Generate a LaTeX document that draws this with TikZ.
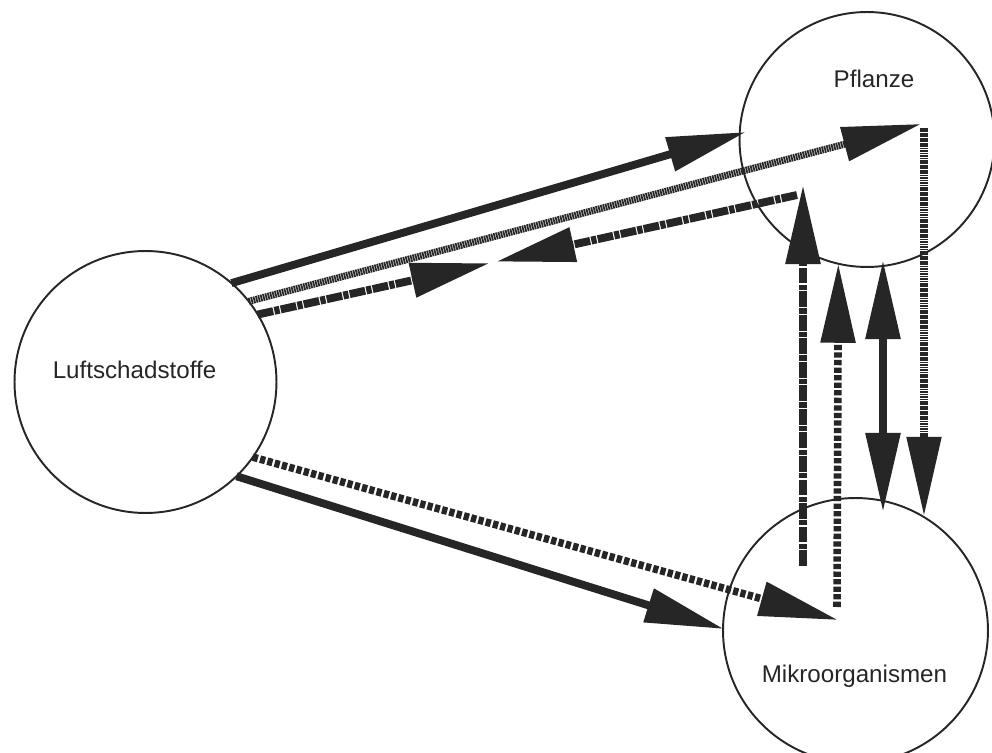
\documentclass[tikz,border=0pt]{standalone}
\usepackage{fontspec}
\setmainfont{Liberation Sans}
\usetikzlibrary{arrows.meta,calc}

\begin{document}
\begin{tikzpicture}[
  x=0.02cm, y=-0.02cm,
  >={Triangle[length=45pt,width=19pt]},
  circsty/.style={draw=black!85, circle, line width=1.1pt, inner sep=0pt, outer sep=0pt},
  textsty/.style={anchor=base, text=black!85, font=\fontsize{13.75}{16}\selectfont},
  solidsty/.style={draw=black!85, line width=4.5pt},
  dashsty/.style={draw=black!85, line width=4.5pt, dash pattern=on 9pt off 0.7pt on 3pt off 0.7pt},
  dotsty/.style={draw=black!85, line width=4.3pt, dash pattern=on 3pt off 1.3pt},
  hatchsty/.style={draw=black!85, line width=4pt, dash pattern=on 1pt off 0.4pt}]

\useasboundingbox (0,0) rectangle (992,753);

\node[circsty, minimum size=5.24cm] (Luft) at (145.5,382) {};
\node[circsty, minimum size=5.1cm]  (Pfl)  at (867,139.5) {};
\node[circsty, minimum size=5.3cm]  (Mik)  at (855.5,630.5) {};

\node[textsty] (LuftT) at (134.5,379) {Luftschadstoffe};
\node[textsty] (PflT)  at (874,88)    {Pflanze};
\node[textsty] (MikT)  at (854.5,683) {Mikroorganismen};

\coordinate (P1) at (746,132);
\coordinate (P2) at (921,124);
\coordinate (P3) at (797,195);
\coordinate (P4) at (803,185);
\coordinate (P5) at (883,260);
\coordinate (P6) at (924,128);

\coordinate (M1) at (724,629);
\coordinate (M2) at (838,620);
\coordinate (M3) at (803,566);
\coordinate (M4) at (837,607);
\coordinate (M5) at (883,512);
\coordinate (M6) at (924,516);

% Luftschadstoffe -> Pflanze
\draw[solidsty,->] (Luft.49) -- (P1);
\draw[hatchsty,->] (Luft.38) -- (P2);
\draw[dashsty,->] (Luft.31) -- ($(Luft.31)!0.43!(P3)$);
\draw[dashsty,->] (P3) -- ($(Luft.31)!0.442!(P3)$);

% Luftschadstoffe -> Mikroorganismen
\draw[solidsty,->] (Luft.-46) -- (M1);
\draw[dotsty,->] (Luft.-35) -- (M2);

% Pflanze <-> Mikroorganismen
\draw[dashsty,->] (M3) -- (P4);
\draw[dotsty,->] (M4) -- (Pfl.-103.6);
\draw[solidsty,<->] (P5) -- (M5);
\draw[hatchsty,->] (P6) -- (M6);

\end{tikzpicture}
\end{document}
